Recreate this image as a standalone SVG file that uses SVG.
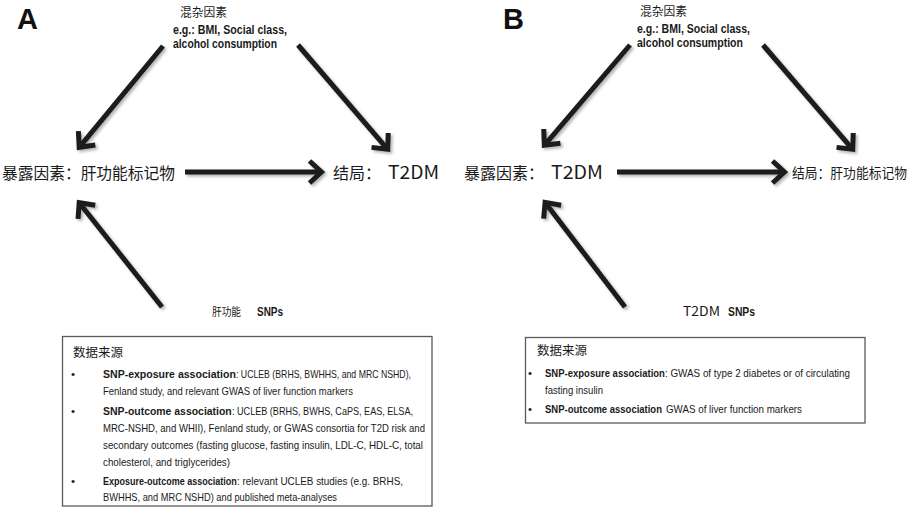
<svg xmlns="http://www.w3.org/2000/svg" width="916" height="509" viewBox="0 0 916 509">
<style>
.cjk{font-family:"Noto Sans CJK SC","Noto Sans",sans-serif;fill:#1a1a1a}
.lat{font-family:"Liberation Sans",Arial,sans-serif;fill:#1a1a1a}
.b{font-weight:bold}
.panel{font-family:"Liberation Sans",Arial,sans-serif;font-weight:bold;font-size:29px;fill:#111}
.conf{font-size:12.5px;font-weight:bold}
.body{font-size:11.5px}
.arr{stroke:#1c1c1c;stroke-width:5;fill:none;marker-end:url(#ah);filter:url(#sh)}
.box{fill:#fff;stroke:#5a5a5a;stroke-width:1.3}
</style>
<defs>
<filter id="sh" filterUnits="userSpaceOnUse" x="0" y="0" width="916" height="509">
<feDropShadow dx="2" dy="2" stdDeviation="1.5" flood-color="#000" flood-opacity="0.3"/>
</filter>
<marker id="ah" markerUnits="userSpaceOnUse" viewBox="-16 -15 20 30" refX="0" refY="0" markerWidth="20" markerHeight="30" orient="auto" overflow="visible">
<path d="M-12,-11 L0,0 L-12,11" fill="none" stroke="#1c1c1c" stroke-width="5" stroke-linejoin="miter"/>
</marker>
</defs>
<rect width="916" height="509" fill="#fff"/>

<text class="panel" x="17" y="29">A</text>
<text class="panel" x="503" y="29">B</text>

<g id="connectors">
<line class="arr" x1="163" y1="46" x2="79.2" y2="147.3"/>
<line class="arr" x1="298" y1="45" x2="387.7" y2="149.3"/>
<line class="arr" x1="185" y1="172" x2="321.5" y2="172"/>
<line class="arr" x1="162" y1="307" x2="79.2" y2="202.7"/>
<line class="arr" x1="630" y1="45" x2="544.3" y2="145.3"/>
<line class="arr" x1="763" y1="45" x2="852.7" y2="149.3"/>
<line class="arr" x1="617" y1="172" x2="784.5" y2="172"/>
<line class="arr" x1="625" y1="307" x2="545.1" y2="202.4"/>
</g>

<g id="a-confounders">
<text class="cjk" x="180" y="17" font-size="12" textLength="47" lengthAdjust="spacingAndGlyphs">混杂因素</text>
<text class="lat conf" x="173" y="34" textLength="114" lengthAdjust="spacingAndGlyphs">e.g.: BMI, Social class,</text>
<text class="lat conf" x="173" y="48" textLength="104" lengthAdjust="spacingAndGlyphs">alcohol consumption</text>
</g>
<g id="a-exposure">
<text class="cjk" x="2" y="179" font-size="16" textLength="173" lengthAdjust="spacingAndGlyphs">暴露因素：肝功能标记物</text>
</g>
<g id="a-outcome">
<text class="cjk" x="333" y="179" font-size="16">结局：</text>
<text class="cjk" x="388" y="179" font-size="18" textLength="51" lengthAdjust="spacingAndGlyphs">T2DM</text>
</g>
<g id="a-snps">
<text class="cjk" x="212" y="316" font-size="11" textLength="29" lengthAdjust="spacingAndGlyphs">肝功能</text>
<text class="lat b" x="257" y="316" font-size="12" textLength="26" lengthAdjust="spacingAndGlyphs">SNPs</text>
</g>
<g id="a-sources">
<rect class="box" x="62.5" y="336.5" width="369.5" height="169.5"/>
<text class="cjk" x="73" y="357" font-size="12.5">数据来源</text>
<g class="lat body">
<text x="71" y="378">•</text>
<text class="b" transform="translate(103,378) scale(0.917,1)">SNP-exposure association</text>
<text x="236" y="378" textLength="175" lengthAdjust="spacingAndGlyphs">: UCLEB (BRHS, BWHHS, and MRC NSHD),</text>
<text x="103" y="395" textLength="250" lengthAdjust="spacingAndGlyphs">Fenland study, and relevant GWAS of liver function markers</text>
<text x="71" y="415">•</text>
<text class="b" transform="translate(103,415) scale(0.909,1)">SNP-outcome association</text>
<text x="232" y="415" textLength="181" lengthAdjust="spacingAndGlyphs">: UCLEB (BRHS, BWHS, CaPS, EAS, ELSA,</text>
<text x="103" y="432" textLength="322" lengthAdjust="spacingAndGlyphs">MRC-NSHD, and WHII), Fenland study, or GWAS consortia for T2D risk and</text>
<text x="103" y="449" textLength="320" lengthAdjust="spacingAndGlyphs">secondary outcomes (fasting glucose, fasting insulin, LDL-C, HDL-C, total</text>
<text x="103" y="466" textLength="127" lengthAdjust="spacingAndGlyphs">cholesterol, and triglycerides)</text>
<text x="71" y="485">•</text>
<text class="b" transform="translate(103,485) scale(0.785,1)">Exposure-outcome association</text>
<text x="237" y="485" textLength="166" lengthAdjust="spacingAndGlyphs">: relevant UCLEB studies (e.g. BRHS,</text>
<text x="103" y="501" textLength="234" lengthAdjust="spacingAndGlyphs">BWHHS, and MRC NSHD) and published meta-analyses</text>
</g>
</g>

<g id="b-confounders">
<text class="cjk" x="640" y="16" font-size="12" textLength="47" lengthAdjust="spacingAndGlyphs">混杂因素</text>
<text class="lat conf" x="637" y="33" textLength="113" lengthAdjust="spacingAndGlyphs">e.g.: BMI, Social class,</text>
<text class="lat conf" x="637" y="47" textLength="106" lengthAdjust="spacingAndGlyphs">alcohol consumption</text>
</g>
<g id="b-exposure">
<text class="cjk" x="464" y="179" font-size="16">暴露因素：</text>
<text class="cjk" x="551" y="179" font-size="18" textLength="52" lengthAdjust="spacingAndGlyphs">T2DM</text>
</g>
<g id="b-outcome">
<text class="cjk" x="792" y="178" font-size="13.5" textLength="115" lengthAdjust="spacingAndGlyphs">结局：肝功能标记物</text>
</g>
<g id="b-snps">
<text class="cjk" x="683" y="316" font-size="13" textLength="37" lengthAdjust="spacingAndGlyphs">T2DM</text>
<text class="lat b" x="728" y="316" font-size="12" textLength="27" lengthAdjust="spacingAndGlyphs">SNPs</text>
</g>
<g id="b-sources">
<rect class="box" x="525.5" y="337.5" width="339.5" height="85.5"/>
<text class="cjk" x="537" y="355" font-size="12.5">数据来源</text>
<g class="lat body">
<text x="528" y="377">•</text>
<text class="b" transform="translate(545,377) scale(0.827,1)">SNP-exposure association</text>
<text x="665" y="377" textLength="185" lengthAdjust="spacingAndGlyphs">: GWAS of type 2 diabetes or of circulating</text>
<text x="545" y="394" textLength="58" lengthAdjust="spacingAndGlyphs">fasting insulin</text>
<text x="528" y="413">•</text>
<text class="b" transform="translate(545,413) scale(0.825,1)">SNP-outcome association</text>
<text x="666" y="413" textLength="136" lengthAdjust="spacingAndGlyphs">GWAS of liver function markers</text>
</g>
</g>
</svg>
